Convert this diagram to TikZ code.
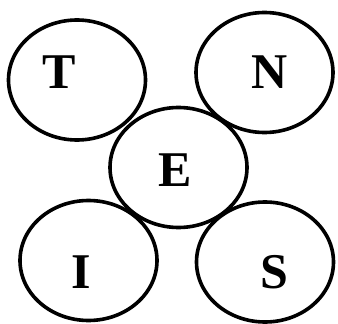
\documentclass[tikz,border=0pt]{standalone}
\usepackage{fontspec}
\setmainfont{Liberation Serif}
\usetikzlibrary{shapes.geometric}

\begin{document}
\begin{tikzpicture}[
  x=1pt, y=-1pt,
  ring/.style={
    ellipse, draw=black, line width=3.6pt,
    minimum width=137pt, minimum height=120pt, inner sep=0pt
  },
  every label/.style={
    font=\fontsize{50}{50}\selectfont\bfseries, inner sep=0pt
  }
]
\useasboundingbox (0,0) rectangle (338,324);

\node[ring, label={[xshift=-18pt, yshift=8pt]center:T}] (t) at (77,80) {};
\node[ring, label={[xshift=5.5pt]center:N}] (n) at (264.5,72.5) {};
\node[ring, label={[xshift=-3.5pt, yshift=-2.5pt]center:E}] (e) at (178.5,167.5) {};
\node[ring, label={[xshift=-7.5pt, yshift=-11.5pt]center:I}] (i) at (88.5,260.5) {};
\node[ring, label={[xshift=9pt, yshift=-10pt]center:S}] (s) at (265,262) {};

\end{tikzpicture}
\end{document}
